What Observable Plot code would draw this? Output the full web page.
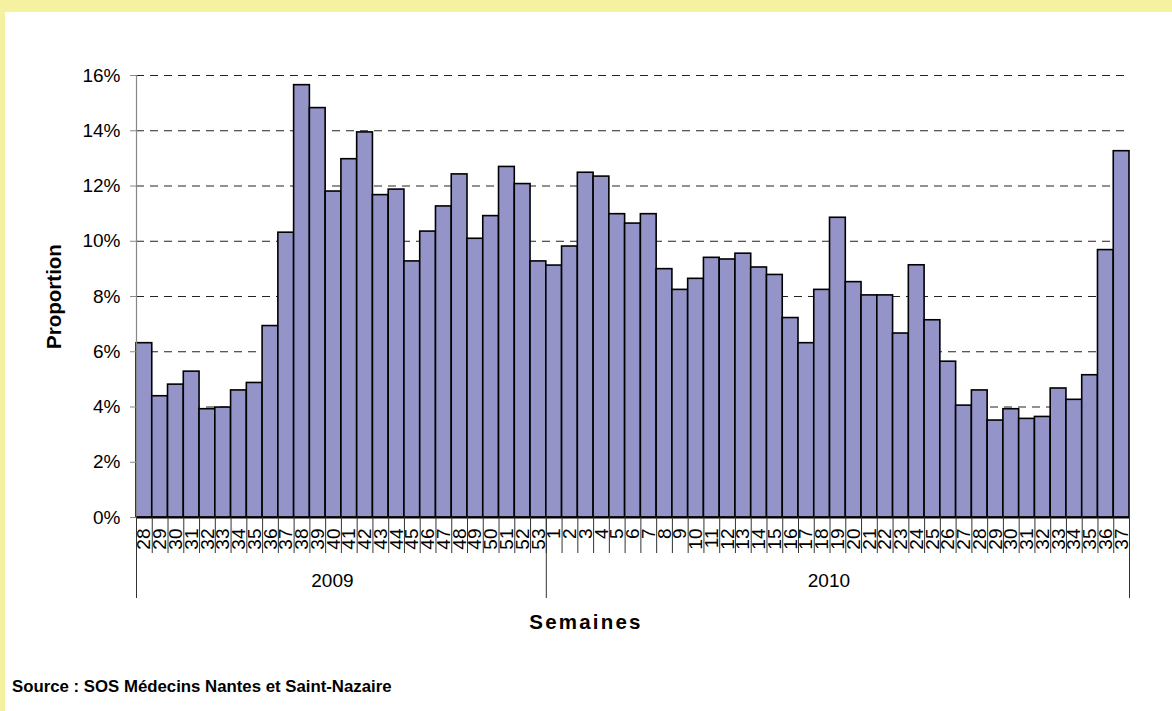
<!DOCTYPE html>
<html>
<head>
<meta charset="utf-8">
<script src="https://cdn.jsdelivr.net/npm/d3@7"></script>
<script src="https://cdn.jsdelivr.net/npm/@observablehq/plot@0.6"></script>
<style>
  html, body { margin: 0; padding: 0; background: #ffffff; width: 1172px; height: 711px; overflow: hidden; }
  #topband { position: absolute; left: 0; top: 0; width: 1172px; height: 12px; background: #F4F2A0; }
  #leftband { position: absolute; left: 0; top: 0; width: 5px; height: 711px; background: #F4F2A0; }
  #chart { position: absolute; left: 0; top: 0; }
  #source { position: absolute; left: 12px; top: 677px; font: bold 16.8px Arial, "Liberation Sans", sans-serif; color: #000; }
  .spaced text { letter-spacing: 2.2px; }
</style>
</head>
<body>
<div id="topband"></div>
<div id="leftband"></div>
<div id="chart"></div>
<div id="source">Source : SOS Médecins Nantes et Saint-Nazaire</div>
<script>
const years = ["2009", "2010"];
const weeks2009 = [28,29,30,31,32,33,34,35,36,37,38,39,40,41,42,43,44,45,46,47,48,49,50,51,52,53];
const values2009 = [6.31,4.39,4.81,5.28,3.92,3.98,4.60,4.87,6.93,10.31,15.65,14.82,11.80,12.97,13.94,11.67,11.87,9.27,10.35,11.26,12.42,10.09,10.91,12.69,12.07,9.27];
const weeks2010 = [1,2,3,4,5,6,7,8,9,10,11,12,13,14,15,16,17,18,19,20,21,22,23,24,25,26,27,28,29,30,31,32,33,34,35,36,37];
const values2010 = [9.12,9.81,12.48,12.34,10.98,10.64,10.98,8.99,8.24,8.64,9.40,9.34,9.55,9.05,8.78,7.22,6.31,8.24,10.85,8.52,8.04,8.04,6.66,9.13,7.14,5.64,4.05,4.60,3.51,3.92,3.57,3.64,4.67,4.26,5.15,9.68,13.26];
const yTicks = [0,2,4,6,8,10,12,14,16];

// build table
const rows = [];
weeks2009.forEach((w, k) => rows.push({year: years[0], week: w, v: values2009[k]}));
weeks2010.forEach((w, k) => rows.push({year: years[1], week: w, v: values2010[k]}));
rows.forEach((d, i) => { d.i = i; d.i2 = i + 1; });
const n = rows.length;
const boundaries = [0, weeks2009.length, n];
const groups = [
  {year: years[0], c: weeks2009.length / 2},
  {year: years[1], c: weeks2009.length + weeks2010.length / 2}
];

const chart = Plot.plot({
  width: 1172,
  height: 650,
  marginLeft: 136,
  marginRight: 43,
  marginTop: 75,
  marginBottom: 133,
  style: {background: "transparent", fontFamily: "Arial, 'Liberation Sans', sans-serif", fontSize: "19px", color: "#000", overflow: "visible"},
  x: {type: "linear", domain: [0, n], axis: null},
  y: {domain: [0, 16], axis: null},
  marks: [
    Plot.gridY(yTicks.filter(t => t > 0), {stroke: "#222", strokeOpacity: 1, strokeWidth: 1, strokeDasharray: "8,6"}),
    Plot.rectY(rows, {x1: "i", x2: "i2", y: "v", fill: "#9494C8", stroke: "#000", strokeWidth: 1.6, inset: 0}),
    Plot.ruleX([0], {stroke: "#888", strokeWidth: 1.2}),
    Plot.ruleY([0], {stroke: "#000", strokeWidth: 2}),
    Plot.axisY({ticks: yTicks, tickFormat: d => d + "%", tickSize: 6, tickPadding: 10, stroke: "#888", fill: "#000", fontSize: 19, label: null}),
    Plot.axisX({ticks: d3.range(0, n + 1), tickSize: 36, tickFormat: () => "", stroke: "#333", label: null}),
    Plot.axisX({ticks: boundaries, tickSize: 81, tickFormat: () => "", stroke: "#333", label: null}),
    Plot.axisX({ticks: rows.map(d => d.i + 0.5), tickFormat: t => rows[Math.floor(t)].week, tickSize: 0, tickPadding: 11, tickRotate: -90, fontSize: 19, fill: "#000", label: null}),
    Plot.text(groups, {x: "c", text: "year", frameAnchor: "bottom", dx: -9, dy: 69, fontSize: 19, fill: "#000"}),
    Plot.text(["Semaines"], {frameAnchor: "bottom", dx: -47, dy: 111, fontSize: 20.5, fontWeight: "bold", fill: "#000", className: "spaced"}),
    Plot.text(["Proportion"], {frameAnchor: "left", textAnchor: "middle", dx: -82, rotate: -90, fontSize: 20.5, fontWeight: "bold", fill: "#000"})
  ]
});
document.getElementById("chart").appendChild(chart);
</script>
</body>
</html>
